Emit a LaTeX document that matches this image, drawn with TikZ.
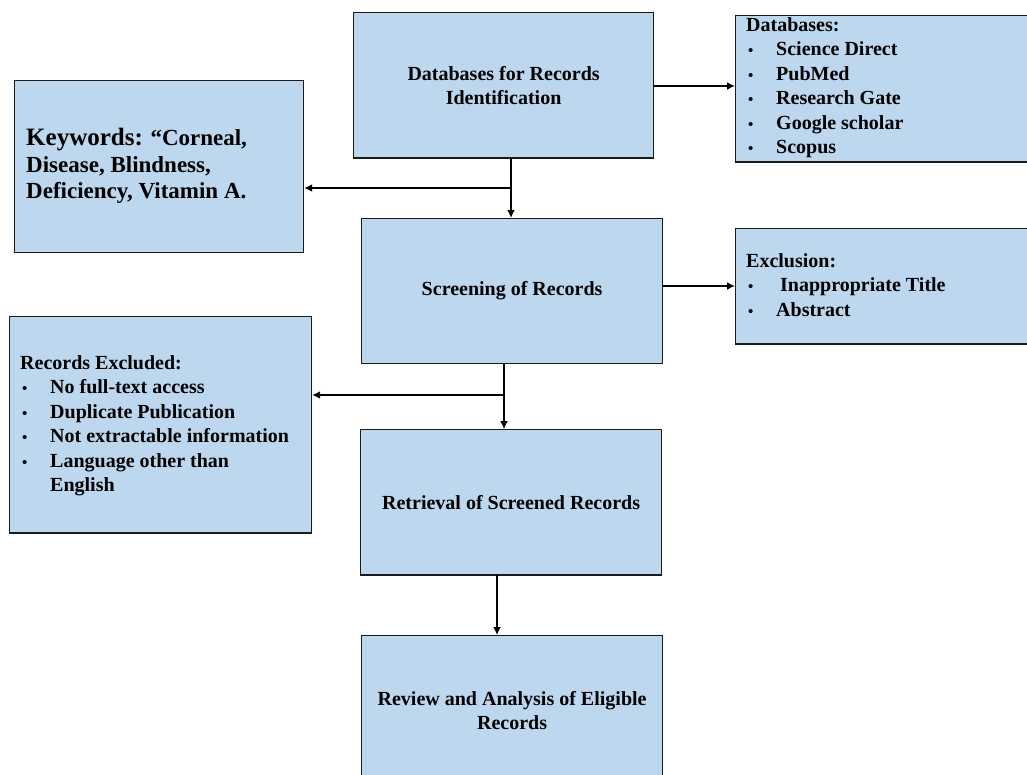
\documentclass[tikz,border=0pt]{standalone}
\usepackage{fontspec}
\setmainfont{Liberation Serif}
\usetikzlibrary{arrows.meta}
\definecolor{boxblue}{HTML}{BDD7EE}
\definecolor{edge}{HTML}{1A1A1A}
\newcommand{\itm}[1]{\makebox[30pt][l]{\hspace*{2pt}{\fontsize{15}{15}\selectfont\textbullet}}#1}
\begin{document}
\begin{tikzpicture}[x=1pt,y=-1pt,
  box/.style={draw=edge, line width=1.2pt, fill=boxblue, inner sep=0pt,
              anchor=north west, align=center,
              font=\bfseries\fontsize{20}{24}\selectfont},
  lst/.style={font=\bfseries\fontsize{20}{24.5}\selectfont, align=left,
              anchor=north west, inner sep=0pt},
  base/.style={draw=edge, line width=2.4pt},
  arr/.style={line width=2.4pt, -{Latex[length=8pt,width=8pt]}},
  thinarr/.style={line width=1.6pt, -{Latex[length=8pt,width=8pt]}}]
\useasboundingbox (0,0) rectangle (1027,774);

% boxes
\node[box, minimum width=300pt, minimum height=145pt] (ident) at (353,12)
  {Databases for Records\\Identification};
\node[box, minimum width=300pt, minimum height=146pt] (dbs) at (735,15) {};
\node[box, minimum width=289pt, minimum height=172pt] (kw) at (14,80) {};
\node[box, minimum width=301pt, minimum height=145pt] (screen) at (361,218)
  {Screening of Records};
\node[box, minimum width=300pt, minimum height=115pt] (excl) at (735,228) {};
\node[box, minimum width=302pt, minimum height=216pt] (recx) at (9,316) {};
\node[box, minimum width=301pt, minimum height=145pt] (retr) at (360,429)
  {Retrieval of Screened Records};
\node[box, minimum width=301pt, minimum height=150pt] (rev) at (361,635)
  {Review and Analysis of Eligible\\Records};

% heavier lower edges
\draw[base] (ident.south west) -- (ident.south east);
\draw[base] (dbs.south west) -- (dbs.south east);
\draw[base] (excl.south west) -- (excl.south east);
\draw[base] (recx.south west) -- (recx.south east);
\draw[base] (retr.south west) -- (retr.south east);

% box contents
\node[lst] (dbstxt) at (746,17) {Databases:\\
  \itm{Science Direct}\\ \itm{PubMed}\\ \itm{Research Gate}\\
  \itm{Google scholar}\\ \itm{Scopus}};
\node[lst, font=\bfseries\fontsize{23}{26.5}\selectfont] (kwtxt) at (26,128)
  {{\fontsize{25}{26.5}\selectfont Keywords:} “Corneal,\\
   Disease, Blindness,\\ Deficiency, Vitamin A.};
\node[lst] (excltxt) at (746,253) {Exclusion:\\
  \itm{\hspace*{4pt}Inappropriate Title}\\ \itm{Abstract}};
\node[lst] (recxtxt) at (20,355) {Records Excluded:\\
  \itm{No full-text access}\\ \itm{Duplicate Publication}\\
  \itm{Not extractable information}\\ \itm{Language other than}\\
  \hspace*{30pt}English};

% connectors
\coordinate (j1) at (511,188);
\coordinate (j2) at (504,395);
\draw[arr] (ident.east |- 0,86) -- (dbs.west |- 0,86);
\draw[arr] (ident.south -| j1) -- (screen.north -| j1);
\draw[arr] (j1) -- (j1 -| kw.east);
\draw[arr] (screen.east |- 0,286) -- (excl.west |- 0,286);
\draw[arr] (screen.south -| j2) -- (retr.north -| j2);
\draw[thinarr] (j2) -- (j2 -| recx.east);
\draw[arr] (retr.south -| 497,0) -- (rev.north -| 497,0);
\end{tikzpicture}
\end{document}
